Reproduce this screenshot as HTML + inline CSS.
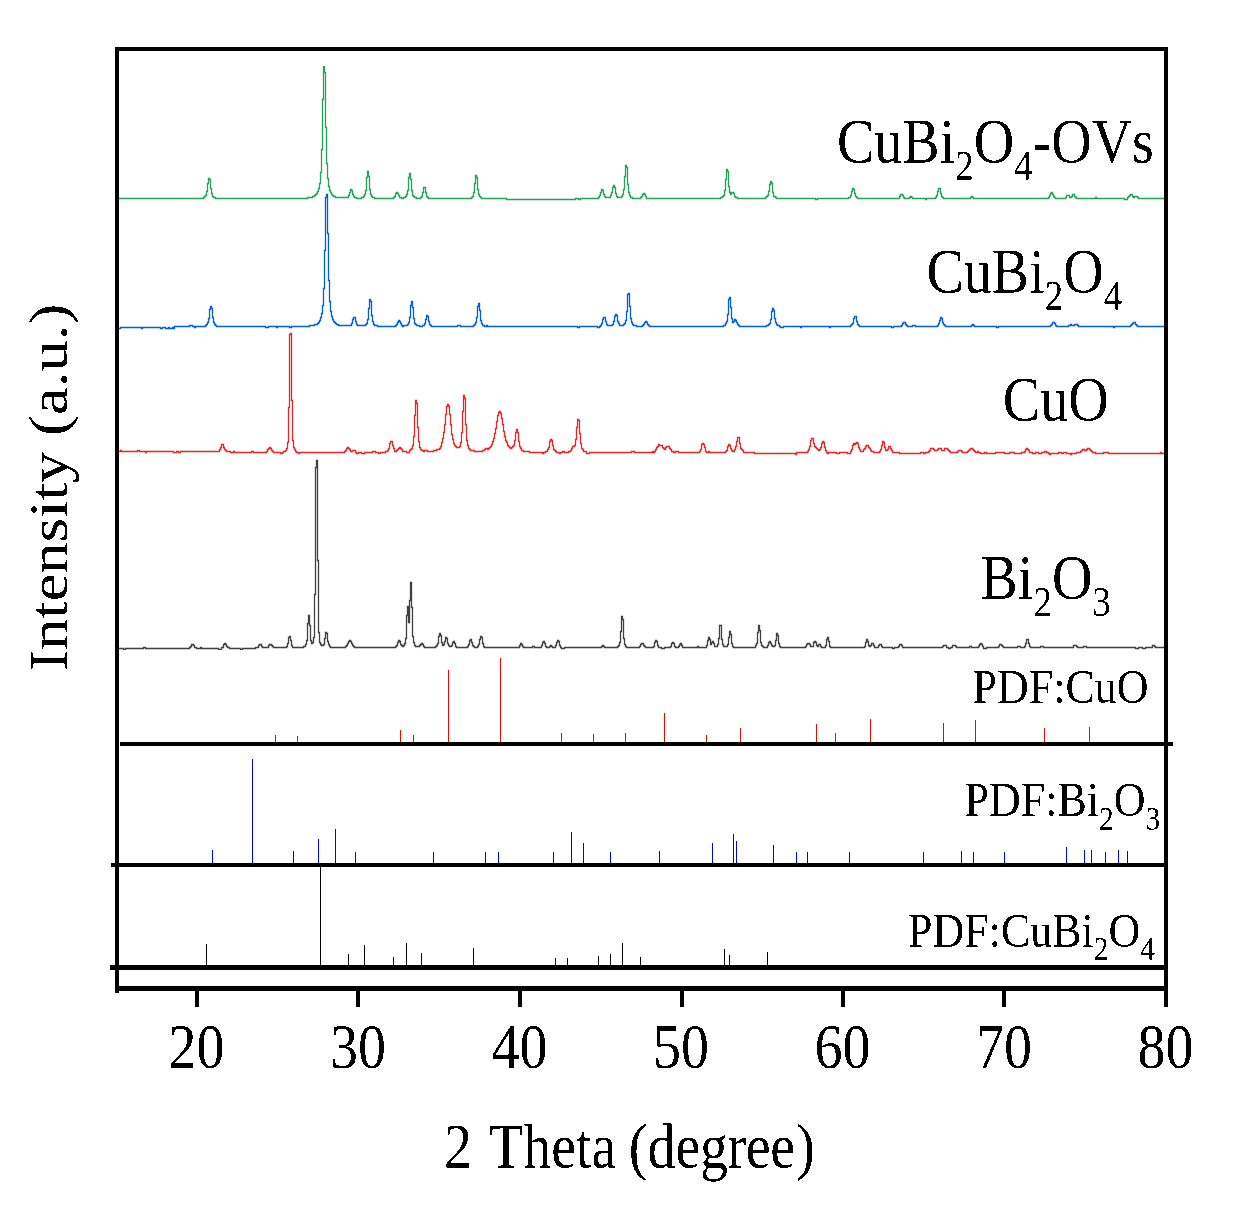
<!DOCTYPE html>
<html><head><meta charset="utf-8"><title>XRD</title>
<style>html,body{margin:0;padding:0;background:#fff;width:1259px;height:1214px;overflow:hidden}
text{font-family:"Liberation Serif",serif;fill:#000}</style></head>
<body>
<svg width="1259" height="1214" viewBox="0 0 1259 1214" style="display:block;will-change:transform">
<defs><filter id="bin" x="0" y="0" width="1" height="1" color-interpolation-filters="sRGB"><feComponentTransfer><feFuncA type="discrete" tableValues="0 1"/></feComponentTransfer></filter><filter id="soft" x="0" y="0" width="1" height="1"><feGaussianBlur stdDeviation="0.3"/></filter></defs>
<rect width="1259" height="1214" fill="#fff"/>
<g filter="url(#soft)">
<path fill="none" stroke="#21a357" stroke-width="1.3" d="M116,198.5H203.5V197.5H204.5V196.5H205.5V195.5H206.5V191.5H207.5V183.5H208.5V178.5H209.5V179.5H210.5V188.5H211.5V193.5H212.5V196.5H213.5V197.5H215.5V198.5H307.5V197.5H312.5V196.5H314.5V195.5H315.5V194.5H316.5V193.5H317.5V191.5H318.5V188.5H319.5V183.5H320.5V172.5H321.5V149.5H322.5V99.5H323.5V66.5H324.5V72.5H325.5V127.5H326.5V163.5H327.5V178.5H328.5V186.5H329.5V190.5H330.5V192.5H331.5V194.5H332.5V195.5H333.5V196.5H335.5V197.5H348.5V195.5H349.5V192.5H350.5V189.5H351.5V190.5H352.5V194.5H353.5V196.5H354.5V197.5H356.5V198.5H361.5V197.5H363.5V196.5H364.5V194.5H365.5V190.5H366.5V177.5H367.5V171.5H368.5V176.5H369.5V189.5H370.5V194.5H371.5V196.5H372.5V197.5H374.5V198.5H393.5V197.5H394.5V196.5H395.5V193.5H396.5V192.5H397.5V193.5H398.5V195.5H399.5V197.5H401.5V198.5H403.5V197.5H405.5V196.5H406.5V194.5H407.5V190.5H408.5V177.5H409.5V173.5H410.5V179.5H411.5V190.5H412.5V195.5H413.5V196.5H414.5V197.5H416.5V198.5H420.5V197.5H421.5V196.5H422.5V192.5H423.5V187.5H425.5V192.5H426.5V196.5H427.5V197.5H428.5V198.5H471.5V197.5H472.5V196.5H473.5V192.5H474.5V183.5H475.5V175.5H476.5V177.5H477.5V189.5H478.5V194.5H479.5V196.5H480.5V197.5H481.5V198.5H506.5V199.5H575.5V198.5H578.5V199.5H580.5V198.5H598.5V197.5H599.5V195.5H600.5V192.5H601.5V189.5H602.5V190.5H603.5V194.5H604.5V196.5H605.5V197.5H610.5V195.5H611.5V192.5H612.5V187.5H613.5V185.5H614.5V187.5H615.5V193.5H616.5V196.5H617.5V197.5H621.5V196.5H622.5V194.5H623.5V189.5H624.5V176.5H625.5V165.5H626.5V167.5H627.5V184.5H628.5V192.5H629.5V195.5H630.5V197.5H632.5V198.5H640.5V197.5H641.5V196.5H642.5V194.5H643.5V193.5H644.5V194.5H645.5V196.5H646.5V198.5H720.5V197.5H722.5V196.5H723.5V195.5H724.5V190.5H725.5V179.5H726.5V169.5H727.5V171.5H728.5V186.5H729.5V192.5H730.5V194.5H731.5V192.5H733.5V193.5H734.5V196.5H735.5V197.5H737.5V198.5H765.5V197.5H766.5V196.5H767.5V195.5H768.5V191.5H769.5V184.5H770.5V181.5H771.5V183.5H772.5V192.5H773.5V196.5H775.5V197.5H776.5V198.5H815.5V199.5H817.5V198.5H848.5V197.5H850.5V195.5H851.5V191.5H852.5V188.5H853.5V189.5H854.5V193.5H855.5V196.5H856.5V197.5H857.5V198.5H899.5V196.5H900.5V194.5H902.5V195.5H903.5V197.5H904.5V198.5H909.5V197.5H910.5V196.5H911.5V197.5H912.5V198.5H925.5V199.5H926.5V198.5H935.5V197.5H936.5V195.5H937.5V191.5H938.5V188.5H940.5V193.5H941.5V196.5H942.5V197.5H943.5V198.5H970.5V197.5H971.5V196.5H972.5V197.5H973.5V198.5H1048.5V197.5H1049.5V195.5H1050.5V193.5H1051.5V192.5H1052.5V194.5H1053.5V196.5H1054.5V197.5H1055.5V198.5H1065.5V197.5H1066.5V195.5H1069.5V197.5H1071.5V196.5H1072.5V194.5H1074.5V196.5H1075.5V197.5H1076.5V198.5H1095.5V197.5H1096.5V198.5H1124.5V199.5H1127.5V197.5H1128.5V196.5H1129.5V195.5H1130.5V194.5H1132.5V196.5H1133.5V197.5H1134.5V196.5H1137.5V197.5H1138.5V198.5H1164"/>
<path fill="none" stroke="#005fdc" stroke-width="1.3" d="M116,327.5H117.5V328.5H120.5V327.5H141.5V328.5H142.5V327.5H160.5V328.5H162.5V327.5H165.5V328.5H168.5V327.5H169.5V328.5H172.5V327.5H173.5V328.5H174.5V326.5H189.5V325.5H192.5V326.5H194.5V327.5H195.5V326.5H205.5V325.5H206.5V324.5H207.5V322.5H208.5V318.5H209.5V309.5H210.5V306.5H211.5V308.5H212.5V317.5H213.5V322.5H214.5V324.5H215.5V325.5H216.5V326.5H265.5V327.5H268.5V326.5H276.5V327.5H277.5V326.5H289.5V327.5H291.5V326.5H309.5V325.5H314.5V324.5H317.5V323.5H318.5V322.5H319.5V320.5H320.5V317.5H321.5V313.5H322.5V305.5H323.5V288.5H324.5V250.5H325.5V197.5H326.5V194.5H327.5V233.5H328.5V280.5H329.5V301.5H330.5V311.5H331.5V316.5H332.5V319.5H333.5V321.5H334.5V322.5H335.5V323.5H336.5V324.5H338.5V325.5H351.5V323.5H352.5V319.5H353.5V317.5H355.5V321.5H356.5V324.5H357.5V325.5H365.5V324.5H366.5V323.5H367.5V319.5H368.5V308.5H369.5V299.5H370.5V301.5H371.5V315.5H372.5V321.5H373.5V324.5H374.5V325.5H377.5V326.5H395.5V325.5H396.5V324.5H397.5V322.5H398.5V320.5H399.5V321.5H400.5V323.5H401.5V325.5H402.5V326.5H403.5V325.5H407.5V324.5H408.5V322.5H409.5V317.5H410.5V305.5H411.5V301.5H412.5V307.5H413.5V318.5H414.5V323.5H415.5V324.5H416.5V325.5H419.5V326.5H422.5V325.5H424.5V323.5H425.5V319.5H426.5V315.5H427.5V316.5H428.5V321.5H429.5V324.5H430.5V325.5H431.5V326.5H457.5V325.5H460.5V326.5H473.5V325.5H474.5V324.5H475.5V322.5H476.5V317.5H477.5V306.5H478.5V303.5H479.5V310.5H480.5V320.5H481.5V323.5H482.5V325.5H484.5V326.5H486.5V325.5H487.5V326.5H577.5V327.5H579.5V326.5H597.5V327.5H599.5V326.5H600.5V325.5H601.5V323.5H602.5V319.5H603.5V317.5H605.5V321.5H606.5V324.5H607.5V325.5H612.5V324.5H613.5V321.5H614.5V316.5H615.5V314.5H616.5V315.5H617.5V321.5H618.5V323.5H619.5V325.5H623.5V324.5H624.5V323.5H625.5V320.5H626.5V311.5H627.5V294.5H628.5V293.5H629.5V306.5H630.5V318.5H631.5V322.5H632.5V324.5H633.5V325.5H636.5V326.5H642.5V325.5H643.5V324.5H644.5V322.5H645.5V321.5H646.5V322.5H647.5V324.5H648.5V325.5H649.5V326.5H723.5V325.5H725.5V323.5H726.5V321.5H727.5V314.5H728.5V299.5H729.5V297.5H730.5V307.5H731.5V318.5H732.5V322.5H733.5V321.5H734.5V319.5H735.5V320.5H736.5V322.5H737.5V324.5H738.5V325.5H739.5V326.5H766.5V325.5H768.5V324.5H769.5V323.5H770.5V319.5H771.5V311.5H772.5V308.5H773.5V310.5H774.5V318.5H775.5V322.5H776.5V324.5H777.5V325.5H779.5V326.5H780.5V327.5H783.5V326.5H800.5V327.5H801.5V326.5H829.5V327.5H830.5V326.5H850.5V325.5H851.5V324.5H852.5V323.5H853.5V318.5H854.5V316.5H856.5V321.5H857.5V324.5H858.5V325.5H859.5V326.5H891.5V327.5H893.5V326.5H901.5V325.5H902.5V323.5H903.5V322.5H905.5V324.5H906.5V325.5H907.5V326.5H912.5V325.5H915.5V326.5H937.5V325.5H938.5V323.5H939.5V320.5H940.5V317.5H941.5V318.5H942.5V322.5H943.5V324.5H944.5V325.5H945.5V326.5H971.5V325.5H972.5V324.5H973.5V325.5H974.5V326.5H996.5V327.5H998.5V326.5H1050.5V325.5H1051.5V324.5H1052.5V322.5H1054.5V323.5H1055.5V325.5H1056.5V326.5H1068.5V325.5H1070.5V324.5H1071.5V325.5H1074.5V324.5H1077.5V325.5H1078.5V326.5H1113.5V327.5H1114.5V326.5H1130.5V325.5H1131.5V324.5H1132.5V323.5H1133.5V322.5H1135.5V324.5H1136.5V325.5H1137.5V326.5H1164"/>
<path fill="none" stroke="#ec2626" stroke-width="1.3" d="M116,451.5H120.5V450.5H121.5V451.5H137.5V450.5H139.5V451.5H145.5V452.5H146.5V451.5H173.5V452.5H176.5V451.5H178.5V452.5H180.5V451.5H219.5V449.5H220.5V447.5H221.5V444.5H223.5V447.5H224.5V449.5H225.5V450.5H226.5V451.5H230.5V452.5H233.5V451.5H234.5V452.5H251.5V451.5H253.5V452.5H266.5V451.5H267.5V449.5H268.5V448.5H269.5V447.5H270.5V448.5H271.5V450.5H272.5V451.5H273.5V452.5H280.5V453.5H282.5V452.5H283.5V451.5H285.5V450.5H286.5V448.5H287.5V442.5H288.5V407.5H289.5V334.5H290.5V333.5H291.5V400.5H292.5V440.5H293.5V447.5H294.5V449.5H295.5V451.5H296.5V452.5H298.5V453.5H299.5V452.5H344.5V451.5H345.5V450.5H346.5V448.5H347.5V447.5H348.5V448.5H349.5V449.5H350.5V451.5H352.5V450.5H355.5V452.5H356.5V453.5H358.5V452.5H361.5V453.5H364.5V452.5H372.5V451.5H375.5V452.5H378.5V453.5H380.5V452.5H385.5V451.5H387.5V450.5H388.5V448.5H389.5V443.5H390.5V441.5H392.5V445.5H393.5V448.5H394.5V451.5H396.5V450.5H397.5V449.5H398.5V448.5H399.5V447.5H400.5V448.5H401.5V449.5H402.5V451.5H406.5V452.5H409.5V450.5H410.5V449.5H411.5V448.5H412.5V445.5H413.5V436.5H414.5V415.5H415.5V400.5H416.5V403.5H417.5V427.5H418.5V441.5H419.5V447.5H420.5V449.5H421.5V450.5H423.5V451.5H424.5V450.5H427.5V451.5H433.5V450.5H436.5V449.5H439.5V448.5H440.5V446.5H441.5V442.5H442.5V438.5H443.5V432.5H444.5V424.5H445.5V414.5H446.5V406.5H447.5V404.5H448.5V406.5H449.5V414.5H450.5V424.5H451.5V434.5H452.5V439.5H453.5V443.5H454.5V445.5H455.5V446.5H456.5V447.5H459.5V446.5H460.5V442.5H461.5V432.5H462.5V411.5H463.5V395.5H464.5V398.5H465.5V424.5H466.5V440.5H467.5V445.5H468.5V448.5H469.5V449.5H470.5V450.5H474.5V451.5H482.5V450.5H484.5V449.5H485.5V448.5H487.5V449.5H488.5V448.5H489.5V447.5H490.5V446.5H491.5V444.5H492.5V441.5H493.5V438.5H494.5V433.5H495.5V428.5H496.5V421.5H497.5V415.5H498.5V412.5H499.5V411.5H500.5V413.5H501.5V418.5H502.5V424.5H503.5V431.5H504.5V436.5H505.5V440.5H506.5V442.5H507.5V445.5H508.5V446.5H509.5V447.5H510.5V448.5H511.5V447.5H512.5V446.5H513.5V445.5H514.5V440.5H515.5V432.5H516.5V429.5H517.5V432.5H518.5V441.5H519.5V446.5H520.5V448.5H521.5V450.5H523.5V451.5H529.5V452.5H542.5V453.5H543.5V452.5H545.5V451.5H547.5V449.5H548.5V447.5H549.5V441.5H550.5V439.5H551.5V440.5H552.5V445.5H553.5V449.5H554.5V450.5H555.5V451.5H556.5V452.5H559.5V453.5H560.5V452.5H562.5V451.5H564.5V452.5H568.5V451.5H570.5V450.5H571.5V448.5H572.5V446.5H574.5V445.5H575.5V439.5H576.5V427.5H577.5V419.5H578.5V420.5H579.5V433.5H580.5V443.5H581.5V448.5H582.5V449.5H583.5V451.5H586.5V453.5H589.5V452.5H631.5V451.5H634.5V452.5H652.5V451.5H653.5V452.5H654.5V451.5H655.5V449.5H656.5V447.5H657.5V446.5H658.5V444.5H659.5V445.5H662.5V447.5H663.5V448.5H664.5V449.5H665.5V447.5H666.5V446.5H669.5V448.5H670.5V449.5H671.5V451.5H673.5V452.5H675.5V451.5H678.5V452.5H699.5V451.5H700.5V449.5H701.5V444.5H702.5V443.5H703.5V444.5H704.5V447.5H705.5V451.5H706.5V452.5H708.5V451.5H709.5V452.5H725.5V451.5H726.5V450.5H727.5V446.5H728.5V444.5H729.5V445.5H730.5V448.5H731.5V450.5H732.5V451.5H734.5V449.5H735.5V446.5H736.5V441.5H737.5V437.5H739.5V443.5H740.5V448.5H741.5V449.5H742.5V450.5H743.5V452.5H754.5V453.5H795.5V454.5H796.5V452.5H807.5V451.5H808.5V449.5H809.5V446.5H810.5V440.5H811.5V438.5H813.5V443.5H814.5V446.5H815.5V447.5H816.5V448.5H817.5V449.5H818.5V450.5H819.5V449.5H820.5V447.5H821.5V443.5H822.5V441.5H823.5V442.5H824.5V447.5H825.5V450.5H826.5V452.5H827.5V453.5H828.5V452.5H836.5V453.5H839.5V452.5H847.5V453.5H850.5V451.5H851.5V449.5H852.5V445.5H853.5V443.5H854.5V444.5H855.5V443.5H856.5V442.5H857.5V443.5H858.5V447.5H859.5V449.5H860.5V451.5H863.5V449.5H864.5V448.5H865.5V446.5H866.5V445.5H868.5V447.5H869.5V448.5H870.5V450.5H871.5V451.5H873.5V452.5H879.5V451.5H880.5V449.5H881.5V445.5H882.5V441.5H883.5V442.5H884.5V447.5H885.5V450.5H887.5V449.5H888.5V446.5H890.5V448.5H891.5V450.5H892.5V452.5H899.5V453.5H920.5V452.5H923.5V453.5H925.5V452.5H928.5V451.5H929.5V450.5H930.5V448.5H933.5V449.5H934.5V450.5H937.5V449.5H938.5V448.5H941.5V450.5H944.5V448.5H947.5V449.5H948.5V450.5H949.5V451.5H950.5V452.5H957.5V451.5H958.5V450.5H961.5V451.5H962.5V452.5H967.5V451.5H968.5V450.5H969.5V449.5H970.5V448.5H972.5V449.5H973.5V450.5H974.5V451.5H975.5V452.5H977.5V451.5H978.5V452.5H980.5V453.5H984.5V452.5H986.5V453.5H995.5V452.5H1004.5V453.5H1009.5V452.5H1014.5V453.5H1021.5V452.5H1024.5V451.5H1025.5V449.5H1026.5V448.5H1027.5V449.5H1028.5V450.5H1029.5V452.5H1032.5V453.5H1035.5V452.5H1038.5V453.5H1041.5V452.5H1044.5V451.5H1046.5V452.5H1048.5V453.5H1049.5V454.5H1050.5V453.5H1058.5V452.5H1061.5V453.5H1063.5V452.5H1066.5V453.5H1070.5V454.5H1071.5V453.5H1076.5V452.5H1080.5V451.5H1081.5V450.5H1082.5V449.5H1084.5V450.5H1086.5V449.5H1087.5V448.5H1089.5V449.5H1090.5V450.5H1091.5V451.5H1092.5V452.5H1095.5V453.5H1103.5V452.5H1108.5V453.5H1160.5V452.5H1161.5V453.5H1164"/>
<path fill="none" stroke="#404040" stroke-width="1.3" d="M116,648.5H123.5V649.5H125.5V648.5H143.5V647.5H145.5V648.5H189.5V647.5H190.5V646.5H191.5V644.5H193.5V645.5H194.5V647.5H196.5V648.5H200.5V647.5H201.5V648.5H218.5V649.5H221.5V647.5H223.5V644.5H224.5V643.5H225.5V644.5H226.5V646.5H227.5V647.5H229.5V648.5H240.5V649.5H242.5V648.5H255.5V647.5H258.5V645.5H259.5V644.5H261.5V646.5H262.5V647.5H268.5V645.5H269.5V644.5H271.5V645.5H272.5V646.5H273.5V647.5H286.5V646.5H287.5V643.5H288.5V637.5H289.5V636.5H290.5V640.5H291.5V645.5H292.5V647.5H303.5V646.5H305.5V644.5H306.5V640.5H307.5V623.5H308.5V615.5H309.5V625.5H310.5V640.5H311.5V643.5H312.5V642.5H313.5V637.5H314.5V594.5H315.5V467.5H316.5V460.5H317.5V560.5H318.5V632.5H319.5V642.5H320.5V644.5H321.5V645.5H323.5V644.5H324.5V638.5H325.5V632.5H326.5V633.5H327.5V641.5H328.5V644.5H329.5V646.5H330.5V647.5H345.5V646.5H346.5V645.5H347.5V643.5H348.5V641.5H349.5V640.5H350.5V641.5H351.5V643.5H352.5V645.5H353.5V646.5H354.5V647.5H395.5V646.5H396.5V645.5H397.5V642.5H398.5V640.5H399.5V641.5H400.5V644.5H401.5V645.5H402.5V646.5H403.5V645.5H404.5V643.5H405.5V638.5H406.5V615.5H407.5V606.5H408.5V622.5H409.5V600.5H410.5V582.5H411.5V607.5H412.5V636.5H413.5V642.5H414.5V645.5H415.5V646.5H419.5V645.5H420.5V644.5H421.5V643.5H422.5V644.5H423.5V646.5H424.5V647.5H435.5V646.5H436.5V645.5H437.5V643.5H438.5V636.5H439.5V633.5H440.5V635.5H441.5V642.5H442.5V645.5H443.5V644.5H444.5V641.5H445.5V637.5H446.5V638.5H447.5V643.5H448.5V645.5H449.5V646.5H451.5V645.5H452.5V642.5H453.5V641.5H454.5V643.5H455.5V646.5H456.5V647.5H467.5V646.5H468.5V644.5H469.5V640.5H470.5V639.5H471.5V642.5H472.5V645.5H473.5V646.5H474.5V647.5H477.5V646.5H478.5V644.5H479.5V639.5H480.5V636.5H481.5V637.5H482.5V643.5H483.5V646.5H484.5V647.5H519.5V645.5H520.5V643.5H521.5V644.5H522.5V646.5H523.5V647.5H532.5V646.5H534.5V647.5H541.5V645.5H542.5V642.5H543.5V641.5H544.5V643.5H545.5V646.5H546.5V647.5H549.5V646.5H550.5V645.5H551.5V646.5H552.5V647.5H555.5V645.5H556.5V642.5H557.5V640.5H558.5V641.5H559.5V645.5H560.5V647.5H561.5V648.5H564.5V647.5H601.5V646.5H602.5V645.5H603.5V646.5H604.5V647.5H617.5V646.5H618.5V645.5H619.5V642.5H620.5V631.5H621.5V616.5H622.5V619.5H623.5V638.5H624.5V644.5H625.5V646.5H626.5V647.5H639.5V646.5H640.5V644.5H641.5V643.5H643.5V645.5H644.5V646.5H645.5V647.5H653.5V646.5H654.5V642.5H655.5V640.5H656.5V641.5H657.5V645.5H658.5V647.5H661.5V648.5H664.5V647.5H670.5V646.5H671.5V643.5H672.5V642.5H673.5V643.5H674.5V646.5H675.5V647.5H678.5V646.5H679.5V644.5H680.5V643.5H681.5V645.5H682.5V647.5H697.5V646.5H698.5V647.5H706.5V645.5H707.5V640.5H708.5V637.5H709.5V639.5H710.5V644.5H711.5V642.5H712.5V641.5H713.5V643.5H714.5V646.5H717.5V644.5H718.5V638.5H719.5V625.5H721.5V639.5H722.5V644.5H723.5V646.5H727.5V644.5H728.5V637.5H729.5V631.5H730.5V634.5H731.5V643.5H732.5V646.5H733.5V647.5H755.5V645.5H756.5V643.5H757.5V632.5H758.5V625.5H759.5V630.5H760.5V642.5H761.5V645.5H762.5V646.5H763.5V647.5H767.5V645.5H768.5V642.5H769.5V641.5H770.5V643.5H771.5V645.5H772.5V646.5H774.5V645.5H775.5V640.5H776.5V633.5H777.5V635.5H778.5V643.5H779.5V646.5H780.5V647.5H805.5V646.5H806.5V644.5H807.5V643.5H809.5V644.5H810.5V646.5H813.5V642.5H814.5V641.5H815.5V642.5H816.5V645.5H817.5V646.5H818.5V644.5H820.5V646.5H821.5V647.5H825.5V645.5H826.5V639.5H827.5V637.5H828.5V641.5H829.5V646.5H830.5V647.5H864.5V646.5H865.5V642.5H866.5V639.5H867.5V641.5H868.5V645.5H869.5V646.5H870.5V645.5H871.5V643.5H873.5V645.5H874.5V647.5H878.5V645.5H879.5V644.5H881.5V646.5H882.5V647.5H892.5V648.5H894.5V647.5H898.5V646.5H899.5V644.5H901.5V645.5H902.5V647.5H942.5V646.5H943.5V645.5H946.5V647.5H948.5V648.5H950.5V647.5H952.5V645.5H955.5V646.5H956.5V647.5H969.5V646.5H971.5V647.5H978.5V646.5H979.5V644.5H980.5V643.5H981.5V644.5H982.5V646.5H983.5V648.5H986.5V647.5H998.5V646.5H999.5V644.5H1001.5V645.5H1002.5V646.5H1003.5V647.5H1017.5V646.5H1020.5V647.5H1024.5V646.5H1025.5V643.5H1026.5V639.5H1028.5V643.5H1029.5V646.5H1030.5V647.5H1040.5V646.5H1043.5V647.5H1073.5V645.5H1076.5V646.5H1077.5V647.5H1083.5V646.5H1086.5V647.5H1135.5V648.5H1138.5V647.5H1142.5V648.5H1145.5V647.5H1152.5V645.5H1154.5V646.5H1155.5V647.5H1164"/>
</g>
<rect x="275" y="735" width="1" height="9" fill="#f00"/><rect x="297" y="736" width="1" height="8" fill="#f00"/><rect x="400" y="730" width="1" height="14" fill="#f00"/><rect x="413" y="735" width="1" height="9" fill="#f00"/><rect x="448" y="670" width="1" height="74" fill="#f00"/><rect x="500" y="658" width="1" height="86" fill="#f00"/><rect x="561" y="733" width="1" height="11" fill="#f00"/><rect x="593" y="734" width="1" height="10" fill="#f00"/><rect x="625" y="733" width="1" height="11" fill="#f00"/><rect x="664" y="713" width="1" height="31" fill="#f00"/><rect x="706" y="735" width="1" height="9" fill="#f00"/><rect x="740" y="728" width="1" height="16" fill="#f00"/><rect x="816" y="724" width="1" height="20" fill="#f00"/><rect x="835" y="733" width="1" height="11" fill="#f00"/><rect x="870" y="719" width="1" height="25" fill="#f00"/><rect x="943" y="723" width="1" height="21" fill="#f00"/><rect x="975" y="720" width="1" height="24" fill="#f00"/><rect x="1044" y="728" width="1" height="16" fill="#f00"/><rect x="1089" y="727" width="1" height="17" fill="#f00"/>
<rect x="212" y="850" width="1" height="15" fill="#00f"/><rect x="252" y="759" width="1" height="106" fill="#00f"/><rect x="293" y="851" width="1" height="14" fill="#00f"/><rect x="318" y="839" width="1" height="26" fill="#00f"/><rect x="335" y="829" width="1" height="36" fill="#00f"/><rect x="355" y="852" width="1" height="13" fill="#00f"/><rect x="433" y="852" width="1" height="13" fill="#00f"/><rect x="485" y="852" width="1" height="13" fill="#00f"/><rect x="498" y="852" width="1" height="13" fill="#00f"/><rect x="553" y="852" width="1" height="13" fill="#00f"/><rect x="571" y="832" width="1" height="33" fill="#00f"/><rect x="583" y="843" width="1" height="22" fill="#00f"/><rect x="610" y="852" width="1" height="13" fill="#00f"/><rect x="659" y="851" width="1" height="14" fill="#00f"/><rect x="712" y="843" width="1" height="22" fill="#00f"/><rect x="733" y="834" width="1" height="31" fill="#00f"/><rect x="736" y="841" width="1" height="24" fill="#00f"/><rect x="773" y="845" width="1" height="20" fill="#00f"/><rect x="796" y="852" width="1" height="13" fill="#00f"/><rect x="807" y="852" width="1" height="13" fill="#00f"/><rect x="849" y="852" width="1" height="13" fill="#00f"/><rect x="923" y="852" width="1" height="13" fill="#00f"/><rect x="961" y="851" width="1" height="14" fill="#00f"/><rect x="973" y="852" width="1" height="13" fill="#00f"/><rect x="1004" y="852" width="1" height="13" fill="#00f"/><rect x="1066" y="847" width="1" height="18" fill="#00f"/><rect x="1084" y="850" width="1" height="15" fill="#00f"/><rect x="1091" y="850" width="1" height="15" fill="#00f"/><rect x="1105" y="852" width="1" height="13" fill="#00f"/><rect x="1118" y="850" width="1" height="15" fill="#00f"/><rect x="1127" y="851" width="1" height="14" fill="#00f"/>
<rect x="206" y="944" width="1" height="23" fill="#000"/><rect x="320" y="867" width="1" height="100" fill="#000"/><rect x="348" y="954" width="1" height="13" fill="#000"/><rect x="364" y="945" width="1" height="22" fill="#000"/><rect x="393" y="957" width="1" height="10" fill="#000"/><rect x="406" y="943" width="1" height="24" fill="#000"/><rect x="421" y="953" width="1" height="14" fill="#000"/><rect x="473" y="948" width="1" height="19" fill="#000"/><rect x="555" y="958" width="1" height="9" fill="#000"/><rect x="567" y="958" width="1" height="9" fill="#000"/><rect x="598" y="956" width="1" height="11" fill="#000"/><rect x="610" y="954" width="1" height="13" fill="#000"/><rect x="622" y="943" width="1" height="24" fill="#000"/><rect x="640" y="957" width="1" height="10" fill="#000"/><rect x="724" y="949" width="1" height="18" fill="#000"/><rect x="729" y="955" width="1" height="12" fill="#000"/><rect x="767" y="952" width="1" height="15" fill="#000"/>
<g fill="#000">
<rect x="115" y="47" width="1053" height="4"/>
<rect x="115" y="47" width="4" height="946"/>
<rect x="1164" y="47" width="4" height="960"/>
<rect x="120" y="742" width="1053" height="4"/>
<rect x="111" y="863" width="1055" height="4"/>
<rect x="110" y="965" width="1056" height="5"/>
<rect x="115" y="986" width="1053" height="5"/>
<rect x="195" y="988" width="4" height="19"/>
<rect x="356" y="988" width="4" height="19"/>
<rect x="518" y="988" width="4" height="19"/>
<rect x="680" y="988" width="4" height="19"/>
<rect x="841" y="988" width="4" height="19"/>
<rect x="1002" y="988" width="4" height="19"/>
</g>
<g filter="url(#bin)">
<text transform="translate(196.5,1068) scale(1,1.14)" font-family="Liberation Serif" font-size="56" text-anchor="middle">20</text>
<text transform="translate(358.0,1068) scale(1,1.14)" font-family="Liberation Serif" font-size="56" text-anchor="middle">30</text>
<text transform="translate(519.5,1068) scale(1,1.14)" font-family="Liberation Serif" font-size="56" text-anchor="middle">40</text>
<text transform="translate(681.0,1068) scale(1,1.14)" font-family="Liberation Serif" font-size="56" text-anchor="middle">50</text>
<text transform="translate(842.5,1068) scale(1,1.14)" font-family="Liberation Serif" font-size="56" text-anchor="middle">60</text>
<text transform="translate(1003.9999999999999,1068) scale(1,1.14)" font-family="Liberation Serif" font-size="56" text-anchor="middle">70</text>
<text transform="translate(1165.5,1068) scale(1,1.14)" font-family="Liberation Serif" font-size="56" text-anchor="middle">80</text>
<text transform="translate(444,1168) scale(1,1.13)" font-family="Liberation Serif" font-size="56" >2 <tspan dx="3">Theta</tspan><tspan dx="-1.7"> (d</tspan><tspan letter-spacing="-0.4">egree</tspan><tspan dx="1.5">)</tspan></text>
<text transform="translate(67,671) rotate(-90) scale(1.12,1)" font-family="Liberation Serif" font-size="56">Intensity (a.u.)</text>
<text transform="translate(836.9,163) scale(1,1.14)" font-family="Liberation Serif" font-size="56" >CuBi<tspan font-size="37" dy="14.9">2</tspan><tspan font-size="56" dy="-14.9">O</tspan><tspan font-size="37" dy="14.9">4</tspan><tspan font-size="56" dy="-14.9">-OVs</tspan></text>
<text transform="translate(926.5,293) scale(1,1.14)" font-family="Liberation Serif" font-size="56" >CuBi<tspan font-size="37" dy="14.9">2</tspan><tspan font-size="56" dy="-14.9">O</tspan><tspan font-size="37" dy="14.9">4</tspan></text>
<text transform="translate(1002.8,421) scale(1,1.14)" font-family="Liberation Serif" font-size="56" >CuO</text>
<text transform="translate(980.5,599) scale(1,1.14)" font-family="Liberation Serif" font-size="56" >Bi<tspan font-size="37" dy="14.9">2</tspan><tspan font-size="56" dy="-14.9">O</tspan><tspan font-size="37" dy="14.9">3</tspan></text>
<text transform="translate(972.5,702.8) scale(1,1.11)" font-family="Liberation Serif" font-size="44" >PDF:CuO</text>
<text transform="translate(964.5,816) scale(1,1.11)" font-family="Liberation Serif" font-size="44" >PDF:Bi<tspan font-size="29.5" dy="12">2</tspan><tspan font-size="44" dy="-12">O</tspan><tspan font-size="29.5" dy="12">3</tspan></text>
<text transform="translate(908,946.5) scale(1,1.11)" font-family="Liberation Serif" font-size="44" >PDF:CuBi<tspan font-size="29.5" dy="12">2</tspan><tspan font-size="44" dy="-12">O</tspan><tspan font-size="29.5" dy="12">4</tspan></text>
</g>
</svg>
</body></html>
